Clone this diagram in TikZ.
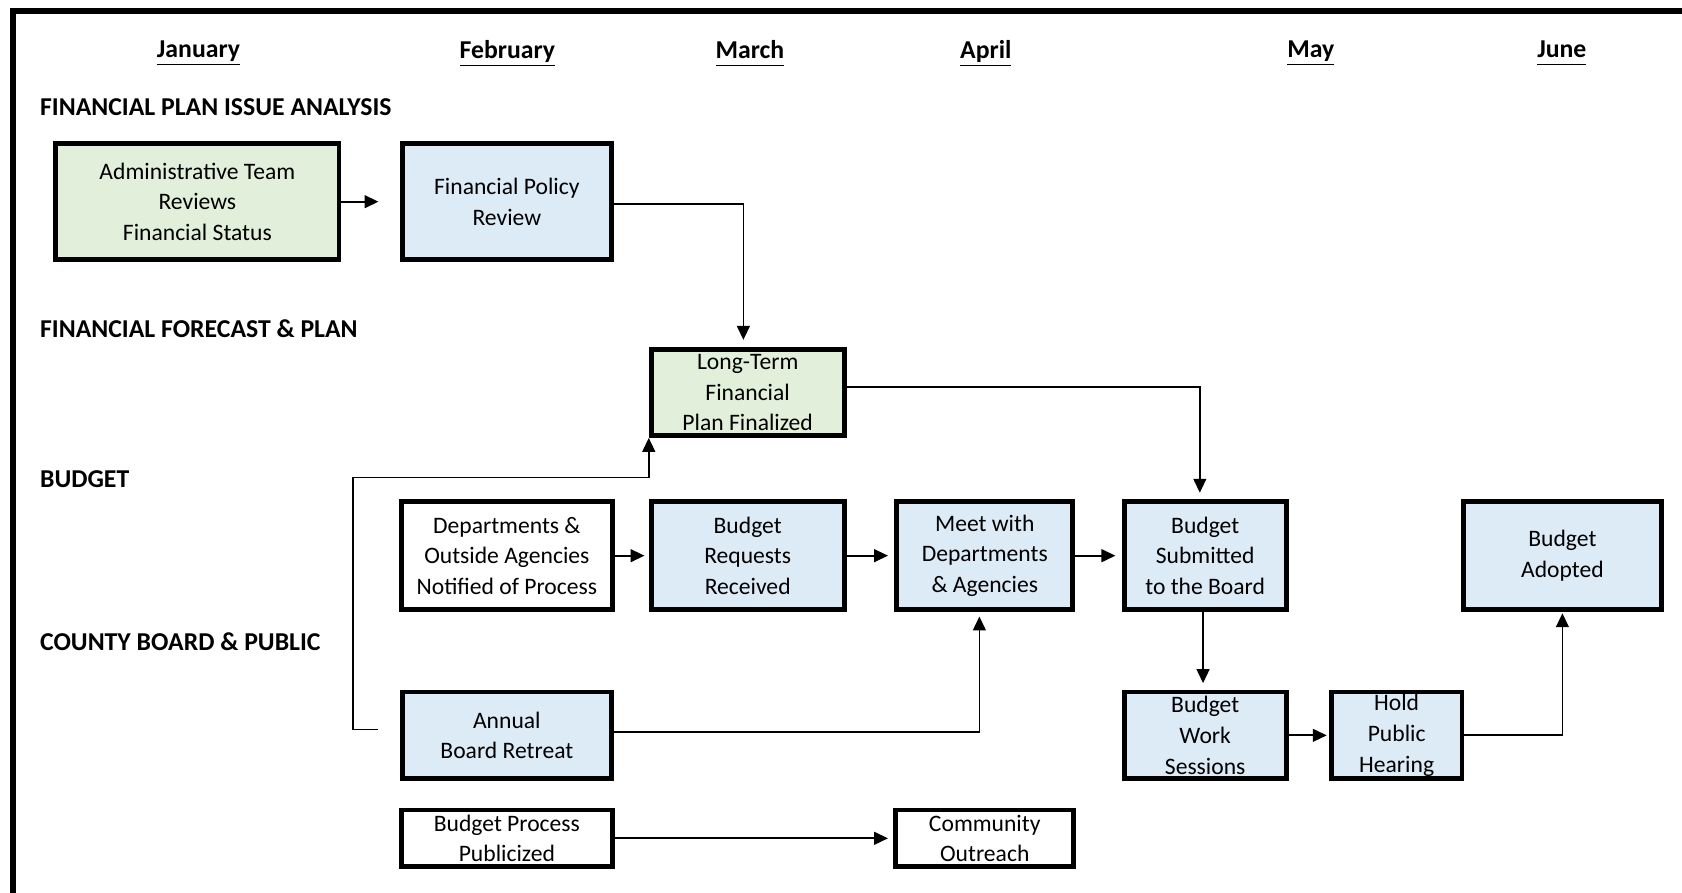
\documentclass[tikz,border=0pt]{standalone}
\usepackage{fontspec}
\setmainfont{Carlito}
\usetikzlibrary{arrows.meta,calc}
\definecolor{boxgreen}{HTML}{E2EFDA}
\definecolor{boxblue}{HTML}{DDEBF7}
\newcommand\bxfont{\fontsize{11}{14.25}\selectfont}
\newcommand\hdfont{\bfseries\fontsize{12}{14}\selectfont}
\newcommand\mon[1]{\underline{#1\vphantom{Jy}}}
\begin{document}
\begin{tikzpicture}[x=0.5pt,y=-0.5pt,
  stage/.style={draw, line width=2.2pt, inner sep=0pt, align=center, font=\bxfont},
  stagegreen/.style={stage, fill=boxgreen},
  stageblue/.style={stage, fill=boxblue},
  stagewhite/.style={stage, fill=white},
  conn/.style={line width=0.8pt, -{Triangle[length=6.5pt,width=6pt]}},
  month/.style={font=\hdfont},
  section/.style={font=\hdfont, anchor=west, inner sep=0pt}]
\useasboundingbox (0,0) rectangle (1568,832);
% frame
\draw[line width=2.8pt] (12,900) -- (12,10) -- (1620,10);
% months
\node[month] (jan) at (185,50) {\mon{January}};
\node[month] (feb) at (473,50) {\mon{February}};
\node[month] (mar) at (699,50) {\mon{March}};
\node[month] (apr) at (919,50) {\mon{April}};
\node[month] (may) at (1222,50) {\mon{May}};
\node[month] (jun) at (1456,50) {\mon{June}};
% sections
\node[section] (s1) at (37,100) {FINANCIAL PLAN ISSUE ANALYSIS};
\node[section] (s2) at (37,306) {FINANCIAL FORECAST \& PLAN};
\node[section] (s3) at (37,447) {BUDGET};
\node[section] (s4) at (37,598) {COUNTY BOARD \& PUBLIC};
% boxes
\node[stagegreen, minimum width=132pt, minimum height=54pt] (admin) at (184,188) {Administrative Team\\Reviews\\Financial Status};
\node[stageblue, minimum width=97.5pt, minimum height=54pt] (fpr) at (472.5,188) {Financial Policy\\Review};
\node[stagegreen, minimum width=90pt, minimum height=40pt] (ltfp) at (697,366) {Long-Term\\Financial\\Plan Finalized};
\node[stagewhite, minimum width=98.5pt, minimum height=50.5pt] (dept) at (472.5,518) {Departments \&\\Outside Agencies\\Notified of Process};
\node[stageblue, minimum width=90pt, minimum height=50.5pt] (br) at (697,518) {Budget\\Requests\\Received};
\node[stageblue, minimum width=82pt, minimum height=50.5pt] (meet) at (918,518) {Meet with\\Departments\\\& Agencies};
\node[stageblue, minimum width=75.5pt, minimum height=50.5pt] (bs) at (1123.5,518) {Budget\\Submitted\\to the Board};
\node[stageblue, minimum width=92.5pt, minimum height=50.5pt] (ba) at (1456.5,518) {Budget\\Adopted};
\node[stageblue, minimum width=97.5pt, minimum height=40.5pt] (abr) at (472.5,685.5) {Annual\\Board Retreat};
\node[stageblue, minimum width=75.5pt, minimum height=40.5pt] (bws) at (1123.5,685.5) {Budget\\Work\\Sessions};
\node[stageblue, minimum width=61pt, minimum height=40.5pt] (hph) at (1302,685.5) {Hold\\Public\\Hearing};
\node[stagewhite, minimum width=98.5pt, minimum height=26.5pt] (bpp) at (472.5,781.5) {Budget Process\\Publicized};
\node[stagewhite, minimum width=83pt, minimum height=26.5pt] (co) at (918,781.5) {Community\\Outreach};
% connectors
\coordinate (abrtap) at (352,680);
\coordinate (elbow) at (329,445);
\draw[conn, shorten >=10pt] (admin) -- (fpr);
\draw[conn, shorten >=3.5pt] ([yshift=-1pt]fpr.east) -| ([xshift=-2pt]ltfp.north);
\draw[conn, shorten >=3pt] ([yshift=2.5pt]ltfp.east) -| ([xshift=-2.5pt]bs.north);
\draw[conn, shorten >=2pt] (dept) -- (br);
\draw[conn, shorten >=3pt] (br) -- (meet);
\draw[conn, shorten >=3pt] (meet) -- (bs);
\draw[conn, shorten >=3pt] ([xshift=-1pt]bs.south) -- ([xshift=-1pt]bws.north);
\draw[conn, shorten >=1pt] (bws) -- (hph);
\draw[conn, shorten >=0.5pt] (hph.east) -| (ba.south);
\draw[conn] (abrtap) -- (abrtap -| elbow) -- (elbow) -| (ltfp.south west);
\draw[conn, shorten >=2pt] ([yshift=1.5pt]abr.east) -| ([xshift=-2.5pt]meet.south);
\draw[conn, shorten >=2.5pt] (bpp) -- (co);
\end{tikzpicture}
\end{document}
